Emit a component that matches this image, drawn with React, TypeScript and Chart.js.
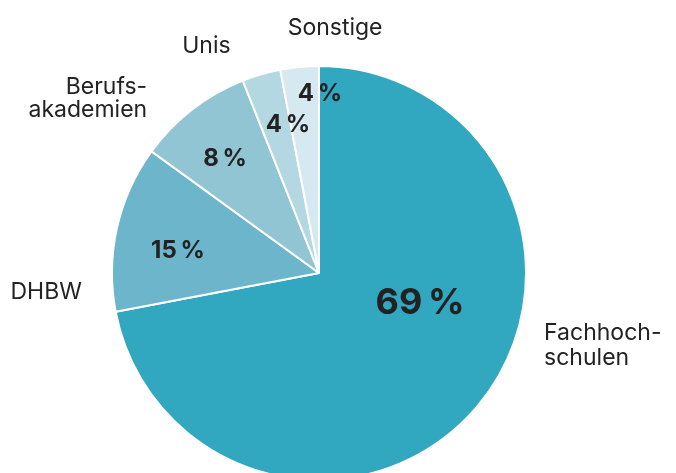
import { useEffect, useRef } from "react";
import { Chart, registerables } from "chart.js";

Chart.register(...registerables);

// ---- data ----
const categories = ["Fachhochschulen", "DHBW", "Berufsakademien", "Unis", "Sonstige"];
const categoryLabelLines = [["Fachhoch-", "schulen"], ["DHBW"], ["Berufs-", "akademien"], ["Unis"], ["Sonstige"]];
const shares = [72, 13, 9, 3, 3];
const shareLabels = ["69\u202F%", "15\u202F%", "8\u202F%", "4\u202F%", "4\u202F%"];

// ---- style / layout ----
const sliceColors = ["#31a8c0", "#6cb5ca", "#92c5d3", "#b3d8e2", "#d6e9f0"];
const TEXT = "#222222";
const FONT = "Inter, 'Noto Sans', sans-serif";
const REF_R = 206;
// offsets relative to pie centre (px at reference radius)
const pctLayout = [
  { dx: 100.5, dy: 41, size: 36 },
  { dx: -140.3, dy: -15, size: 24 },
  { dx: -93.5, dy: -106, size: 24 },
  { dx: -31, dy: -140, size: 24 },
  { dx: 1, dy: -171, size: 24 },
];
const nameLayout: { dx: number; dy: number[]; align: CanvasTextAlign }[] = [
  { dx: 224, dy: [67, 92], align: "left" },
  { dx: -236, dy: [26], align: "right" },
  { dx: -171, dy: [-178, -155.3], align: "right" },
  { dx: -112, dy: [-219], align: "center" },
  { dx: 16, dy: [-237], align: "center" },
];

const labelPlugin = {
  id: "pieLabels",
  afterDatasetsDraw(chart: any) {
    const meta = chart.getDatasetMeta(0);
    const arc = meta.data[0];
    if (!arc) return;
    const cx = arc.x;
    const cy = arc.y;
    const s = arc.outerRadius / REF_R;
    const ctx = chart.ctx as CanvasRenderingContext2D;
    ctx.save();
    ctx.fillStyle = TEXT;
    ctx.textBaseline = "alphabetic";
    shareLabels.forEach((t, i) => {
      const l = pctLayout[i];
      ctx.font = `700 ${l.size}px ${FONT}`;
      ctx.textAlign = "center";
      ctx.fillText(t, cx + l.dx * s, cy + l.dy * s);
    });
    categoryLabelLines.forEach((lines, i) => {
      const l = nameLayout[i];
      ctx.font = `400 23px ${FONT}`;
      ctx.textAlign = l.align;
      lines.forEach((line, j) => {
        ctx.fillText(line, cx + l.dx * s, cy + l.dy[j] * s);
      });
    });
    ctx.restore();
  },
};

export default function App() {
  const ref = useRef<HTMLCanvasElement>(null);
  useEffect(() => {
    document.body.style.margin = "0";
    const canvas = ref.current!;
    const chart = new Chart(canvas, {
      type: "pie",
      data: {
        labels: categories,
        datasets: [
          {
            data: shares,
            backgroundColor: sliceColors,
            borderColor: "#ffffff",
            borderWidth: 2,
            radius: 207,
          } as any,
        ],
      },
      options: {
        responsive: false,
        animation: false,
        events: [],
        layout: { padding: { left: 113, top: 67, right: 151, bottom: 11 } },
        plugins: {
          legend: { display: false },
          tooltip: { enabled: false },
        },
      },
      plugins: [labelPlugin],
    });
    return () => chart.destroy();
  }, []);
  return (
    <div style={{ position: "fixed", left: 0, top: 0, width: 676, height: 473, overflow: "hidden", background: "#fff" }}>
      <canvas ref={ref} width={676} height={490} style={{ display: "block", width: 676, height: 490 }} />
    </div>
  );
}
